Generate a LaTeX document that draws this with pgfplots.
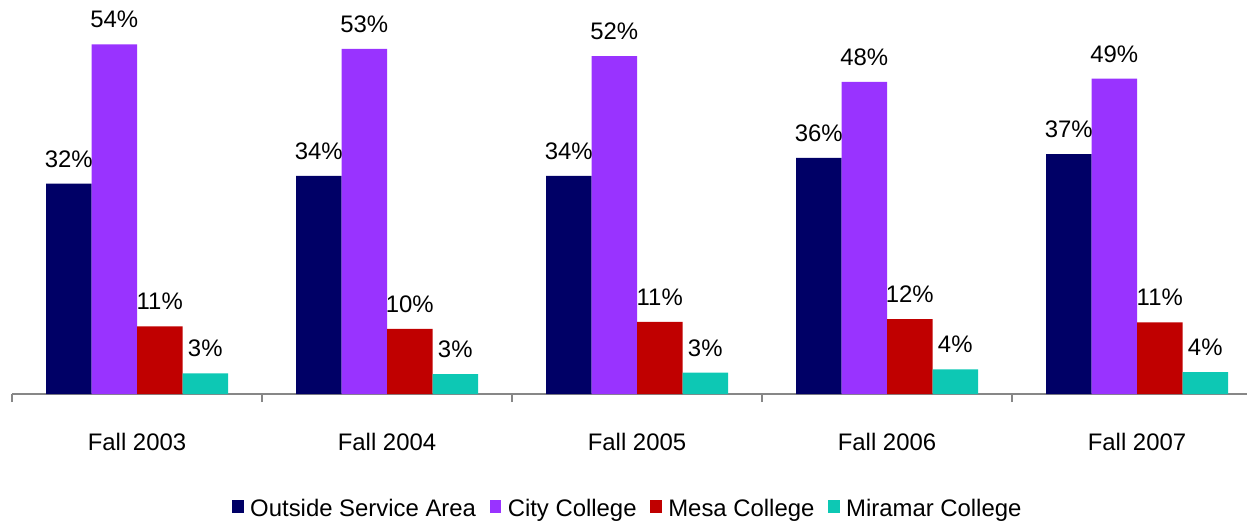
\documentclass[border=0pt]{standalone}
\usepackage{fontspec}
\setmainfont{Liberation Sans}
\usepackage{pgfplots}
\pgfplotsset{compat=1.18}
\definecolor{cOSA}{HTML}{000066}
\definecolor{cCity}{HTML}{9933FF}
\definecolor{cMesa}{HTML}{C00000}
\definecolor{cMira}{HTML}{0DC8B4}
\definecolor{axgray}{HTML}{878787}
\newcommand\fs{\fontsize{11.95}{14}\selectfont}
\pgfplotsset{
  sq legend/.style={legend image code/.code={\fill[##1] (0pt,-1.75pt) rectangle (5.75pt,4.6pt);}},
  bars/.style={fill=#1, draw=none, sq legend},
}
\begin{document}
\begin{tikzpicture}
\begin{axis}[
  at={(0,0)}, anchor=south west, scale only axis,
  width=625pt, height=193.5pt,
  ybar=0pt, bar width=22.75pt,
  xmin=-0.5, xmax=4.5, ymin=0, ymax=60,
  axis x line=bottom, axis y line=none,
  axis line style={draw=axgray, line width=1pt, -},
  xtick={0,1,2,3,4},
  xticklabels={Fall 2003,Fall 2004,Fall 2005,Fall 2006,Fall 2007},
  major x tick style={draw=none},
  minor xtick={-0.5,0.5,1.5,2.5,3.5,4.5},
  minor x tick style={draw=axgray, line width=1pt},
  minor tick length=4pt, xtick align=outside,
  xticklabel style={anchor=base, inner sep=0pt, yshift=-24pt, font=\fs},
  nodes near coords, point meta=explicit symbolic,
  nodes near coords style={font=\fs, anchor=base, inner sep=0pt, yshift=8.25pt, text=black},
  clip=false,
  legend columns=4,
  legend style={draw=none, fill=none, at={(0.1758,-0.2708)}, anchor=north west,
    font=\fs, inner sep=0pt, nodes={inner sep=0pt},
    /tikz/every odd column/.append style={column sep=3.3pt},
    /tikz/every even column/.append style={column sep=6.8pt}},
]
\addplot[bars=cOSA] coordinates {(0,32.6)[32\%] (1,33.8)[34\%] (2,33.8)[34\%] (3,36.6)[36\%] (4,37.2)[37\%]};
\addlegendentry{Outside Service Area}
\addplot[bars=cCity] coordinates {(0,54.2)[54\%] (1,53.5)[53\%] (2,52.4)[52\%] (3,48.4)[48\%] (4,48.9)[49\%]};
\addlegendentry{City College}
\addplot[bars=cMesa] coordinates {(0,10.5)[11\%] (1,10.1)[10\%] (2,11.2)[11\%] (3,11.6)[12\%] (4,11.1)[11\%]};
\addlegendentry{Mesa College}
\addplot[bars=cMira] coordinates {(0,3.2)[3\%] (1,3.1)[3\%] (2,3.3)[3\%] (3,3.8)[4\%] (4,3.4)[4\%]};
\addlegendentry{Miramar College}
\end{axis}
\pgfresetboundingbox
\useasboundingbox (-6pt,-63pt) rectangle (617.5pt,197pt);
\end{tikzpicture}
\end{document}
